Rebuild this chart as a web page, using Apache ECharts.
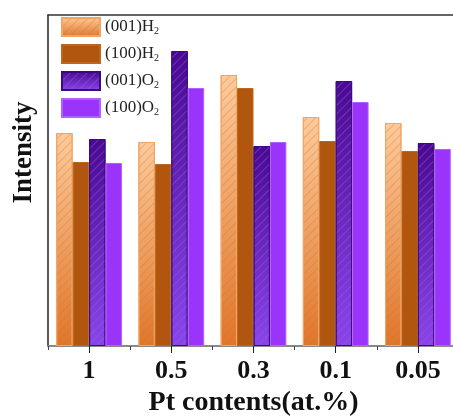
<!DOCTYPE html>
<html><head><meta charset="utf-8">
<script src="https://cdn.jsdelivr.net/npm/echarts@6/dist/echarts.min.js"></script>
<style>html,body{margin:0;padding:0;background:#fff}#c{width:453px;height:416px}</style>
</head><body><div id="c"></div>
<script>
var categories = ['1', '0.5', '0.3', '0.1', '0.05'];
var seriesNames = ['(001)H2', '(100)H2', '(001)O2', '(100)O2'];
var s001H2 = [213, 204, 271, 229, 223];
var s100H2 = [184, 182, 258, 205, 195];
var s001O2 = [207, 295, 200, 265, 203];
var s100O2 = [183, 258, 204, 244, 197];
var yMax = 331;

var font = '"Liberation Serif", "Times New Roman", serif';
function grad(top, bottom) {
  return new echarts.graphic.LinearGradient(0, 0, 0, 1, [
    {offset: 0, color: top}, {offset: 1, color: bottom}
  ]);
}
function hatch(col) {
  return {symbol: 'rect', symbolSize: 1, dashArrayX: [1, 0], dashArrayY: [1, 5],
          rotation: -Math.PI / 4, color: col};
}
var styles = [
  {color: grad('#fdcb9c', '#e0762a'), borderColor: '#f2a462', borderWidth: 1, decal: hatch('rgba(205,115,45,0.35)')},
  {color: '#b0560f', borderColor: '#c0661c', borderWidth: 1},
  {color: grad('#48098f', '#8a45ea'), borderColor: '#3c0a80', borderWidth: 1, decal: hatch('rgba(150,90,240,0.45)')},
  {color: '#9b34fb', borderColor: '#b060ff', borderWidth: 1}
];
var datas = [s001H2, s100H2, s001O2, s100O2];

var chart = echarts.init(document.getElementById('c'), null, {renderer: 'canvas'});
chart.setOption({
  backgroundColor: '#ffffff',
  animation: false,
  grid: {left: 48, top: 15, bottom: 70, right: -6, containLabel: false, outerBoundsMode: 'none'},
  legend: {
    orient: 'vertical', left: 61, top: 17, padding: 0,
    icon: 'rect',
    itemWidth: 38, itemHeight: 18, itemGap: 7,
    data: seriesNames,
    formatter: function (n) { return '{a|' + n.slice(0, -1) + '}{s|' + n.slice(-1) + '}'; },
    textStyle: {
      fontFamily: font, color: '#222', padding: [0, 0, 0, 0],
      rich: {
        a: {fontFamily: font, fontSize: 17, lineHeight: 18, color: '#222'},
        s: {fontFamily: font, fontSize: 10, lineHeight: 10, verticalAlign: 'bottom', color: '#222'}
      }
    }
  },
  xAxis: [
    {
      type: 'category', data: categories, position: 'bottom',
      name: 'Pt contents(at.%)', nameLocation: 'middle', nameGap: 43,
      nameTextStyle: {fontFamily: font, fontSize: 28, fontWeight: 'bold', color: '#111'},
      axisLine: {show: true, lineStyle: {color: '#8a8a8a', width: 2}},
      axisTick: {show: true, alignWithLabel: true, length: 7, lineStyle: {color: '#222', width: 1}},
      axisLabel: {fontFamily: font, fontSize: 26, fontWeight: 'bold', color: '#111', margin: 12}
    },
    {
      type: 'category', data: categories, position: 'bottom',
      axisLine: {show: false},
      axisTick: {show: true, length: 4, lineStyle: {color: '#444', width: 1}},
      axisLabel: {show: false}
    },
    {
      type: 'category', data: categories, position: 'top',
      axisLine: {show: true, lineStyle: {color: '#333', width: 1.5}},
      axisTick: {show: false}, axisLabel: {show: false}
    }
  ],
  yAxis: {
    type: 'value', min: 0, max: yMax,
    name: 'Intensity', nameLocation: 'middle', nameGap: 10, nameRotate: 90,
    nameTextStyle: {fontFamily: font, fontSize: 27, fontWeight: 'bold', color: '#111', padding: [0, 0, 0, 56]},
    axisLine: {show: true, lineStyle: {color: '#222', width: 1.5}},
    axisTick: {show: false}, axisLabel: {show: false}, splitLine: {show: false}
  },
  series: seriesNames.map(function (n, i) {
    return {
      name: n, type: 'bar', xAxisIndex: 0, data: datas[i],
      barGap: '0%', barCategoryGap: '20%',
      itemStyle: styles[i]
    };
  })
});
</script></body></html>
